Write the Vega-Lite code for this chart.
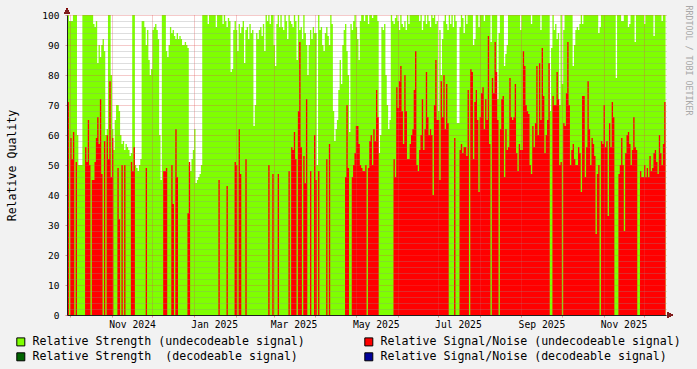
{
  "$schema": "https://vega.github.io/schema/vega-lite/v6.json",
  "width": 599,
  "height": 300,
  "autosize": {"type": "none"},
  "padding": {"left": 67, "top": 15, "right": 31, "bottom": 54},
  "background": "#F2F2F2",
  "config": {
    "view": {"fill": "#FFFFFF", "stroke": null},
    "font": "DejaVu Sans Mono",
    "axis": {"labelFont": "DejaVu Sans Mono", "titleFont": "DejaVu Sans Mono", "labelColor": "#000000", "titleColor": "#000000", "titleFontWeight": "normal"},
    "legend": {"labelFont": "DejaVu Sans Mono"}
  },
  "data": {"values": [
    {"t":"2024-09-29","g":100,"r":71},{"t":"2024-09-30","g":98,"r":0},
    {"t":"2024-10-01","g":98,"r":59},{"t":"2024-10-02","g":98,"r":52},{"t":"2024-10-03","g":100,"r":61},{"t":"2024-10-04","g":100,"r":0},{"t":"2024-10-05","g":100,"r":51},{"t":"2024-10-06","g":60,"r":0},{"t":"2024-10-07","g":50,"r":0},{"t":"2024-10-08","g":50,"r":0},{"t":"2024-10-09","g":50,"r":0},{"t":"2024-10-10","g":100,"r":0},{"t":"2024-10-11","g":100,"r":0},{"t":"2024-10-12","g":100,"r":56},{"t":"2024-10-13","g":100,"r":51},{"t":"2024-10-14","g":100,"r":65},{"t":"2024-10-15","g":100,"r":50},{"t":"2024-10-16","g":100,"r":0},{"t":"2024-10-17","g":100,"r":45},{"t":"2024-10-18","g":97,"r":45},{"t":"2024-10-19","g":96,"r":51},{"t":"2024-10-20","g":98,"r":59},{"t":"2024-10-21","g":84,"r":66},{"t":"2024-10-22","g":90,"r":57},{"t":"2024-10-23","g":86,"r":72},{"t":"2024-10-24","g":90,"r":47},{"t":"2024-10-25","g":92,"r":0},{"t":"2024-10-26","g":88,"r":58},{"t":"2024-10-27","g":60,"r":0},{"t":"2024-10-28","g":62,"r":60},{"t":"2024-10-29","g":100,"r":52},{"t":"2024-10-30","g":100,"r":78},{"t":"2024-10-31","g":80,"r":46},
    {"t":"2024-11-01","g":62,"r":59},{"t":"2024-11-02","g":55,"r":0},{"t":"2024-11-03","g":65,"r":0},{"t":"2024-11-04","g":70,"r":0},{"t":"2024-11-05","g":70,"r":49},{"t":"2024-11-06","g":68,"r":32},{"t":"2024-11-07","g":60,"r":0},{"t":"2024-11-08","g":57,"r":50},{"t":"2024-11-09","g":58,"r":0},{"t":"2024-11-10","g":55,"r":50},{"t":"2024-11-11","g":57,"r":0},{"t":"2024-11-12","g":56,"r":0},{"t":"2024-11-13","g":55,"r":0},{"t":"2024-11-14","g":53,"r":0},{"t":"2024-11-15","g":54,"r":51},{"t":"2024-11-16","g":100,"r":48},{"t":"2024-11-17","g":100,"r":56},{"t":"2024-11-18","g":50,"r":0},{"t":"2024-11-19","g":49,"r":0},{"t":"2024-11-20","g":48,"r":0},{"t":"2024-11-21","g":50,"r":0},{"t":"2024-11-22","g":52,"r":0},{"t":"2024-11-23","g":98,"r":0},{"t":"2024-11-24","g":98,"r":0},{"t":"2024-11-25","g":96,"r":0},{"t":"2024-11-26","g":90,"r":49},{"t":"2024-11-27","g":95,"r":0},{"t":"2024-11-28","g":85,"r":0},{"t":"2024-11-29","g":80,"r":0},{"t":"2024-11-30","g":82,"r":0},
    {"t":"2024-12-01","g":95,"r":0},{"t":"2024-12-02","g":96,"r":0},{"t":"2024-12-03","g":97,"r":0},{"t":"2024-12-04","g":95,"r":0},{"t":"2024-12-05","g":92,"r":0},{"t":"2024-12-06","g":60,"r":0},{"t":"2024-12-07","g":45,"r":0},{"t":"2024-12-08","g":100,"r":0},{"t":"2024-12-09","g":100,"r":48},{"t":"2024-12-10","g":100,"r":48},{"t":"2024-12-11","g":88,"r":49},{"t":"2024-12-12","g":86,"r":0},{"t":"2024-12-13","g":90,"r":0},{"t":"2024-12-14","g":96,"r":0},{"t":"2024-12-15","g":94,"r":50},{"t":"2024-12-16","g":95,"r":37},{"t":"2024-12-17","g":93,"r":0},{"t":"2024-12-18","g":92,"r":62},{"t":"2024-12-19","g":94,"r":46},{"t":"2024-12-20","g":92,"r":0},{"t":"2024-12-21","g":93,"r":0},{"t":"2024-12-22","g":92,"r":0},{"t":"2024-12-23","g":90,"r":0},{"t":"2024-12-24","g":90,"r":0},{"t":"2024-12-25","g":91,"r":0},{"t":"2024-12-26","g":90,"r":0},{"t":"2024-12-27","g":89,"r":34},{"t":"2024-12-28","g":50,"r":51},{"t":"2024-12-29","g":48,"r":0},{"t":"2024-12-30","g":52,"r":0},{"t":"2024-12-31","g":55,"r":0},
    {"t":"2025-01-01","g":62,"r":0},{"t":"2025-01-02","g":44,"r":0},{"t":"2025-01-03","g":45,"r":0},{"t":"2025-01-04","g":46,"r":0},{"t":"2025-01-05","g":47,"r":0},{"t":"2025-01-06","g":50,"r":0},{"t":"2025-01-07","g":100,"r":0},{"t":"2025-01-08","g":100,"r":0},{"t":"2025-01-09","g":100,"r":0},{"t":"2025-01-10","g":100,"r":0},{"t":"2025-01-11","g":97,"r":0},{"t":"2025-01-12","g":100,"r":0},{"t":"2025-01-13","g":100,"r":0},{"t":"2025-01-14","g":100,"r":0},{"t":"2025-01-15","g":100,"r":0},{"t":"2025-01-16","g":100,"r":0},{"t":"2025-01-17","g":96,"r":0},{"t":"2025-01-18","g":100,"r":0},{"t":"2025-01-19","g":100,"r":45},{"t":"2025-01-20","g":100,"r":0},{"t":"2025-01-21","g":100,"r":0},{"t":"2025-01-22","g":97,"r":0},{"t":"2025-01-23","g":100,"r":0},{"t":"2025-01-24","g":98,"r":0},{"t":"2025-01-25","g":96,"r":43},{"t":"2025-01-26","g":99,"r":0},{"t":"2025-01-27","g":98,"r":0},{"t":"2025-01-28","g":81,"r":0},{"t":"2025-01-29","g":82,"r":0},{"t":"2025-01-30","g":95,"r":0},{"t":"2025-01-31","g":98,"r":51},
    {"t":"2025-02-01","g":95,"r":50},{"t":"2025-02-02","g":88,"r":0},{"t":"2025-02-03","g":97,"r":62},{"t":"2025-02-04","g":94,"r":47},{"t":"2025-02-05","g":96,"r":0},{"t":"2025-02-06","g":98,"r":0},{"t":"2025-02-07","g":84,"r":0},{"t":"2025-02-08","g":95,"r":52},{"t":"2025-02-09","g":96,"r":0},{"t":"2025-02-10","g":92,"r":0},{"t":"2025-02-11","g":97,"r":0},{"t":"2025-02-12","g":94,"r":0},{"t":"2025-02-13","g":95,"r":0},{"t":"2025-02-14","g":63,"r":0},{"t":"2025-02-15","g":70,"r":0},{"t":"2025-02-16","g":94,"r":0},{"t":"2025-02-17","g":92,"r":0},{"t":"2025-02-18","g":95,"r":0},{"t":"2025-02-19","g":96,"r":0},{"t":"2025-02-20","g":93,"r":0},{"t":"2025-02-21","g":97,"r":0},{"t":"2025-02-22","g":88,"r":0},{"t":"2025-02-23","g":100,"r":0},{"t":"2025-02-24","g":98,"r":0},{"t":"2025-02-25","g":100,"r":50},{"t":"2025-02-26","g":97,"r":0},{"t":"2025-02-27","g":100,"r":0},{"t":"2025-02-28","g":100,"r":47},
    {"t":"2025-03-01","g":90,"r":0},{"t":"2025-03-02","g":83,"r":0},{"t":"2025-03-03","g":97,"r":0},{"t":"2025-03-04","g":100,"r":47},{"t":"2025-03-05","g":96,"r":0},{"t":"2025-03-06","g":100,"r":0},{"t":"2025-03-07","g":96,"r":0},{"t":"2025-03-08","g":95,"r":0},{"t":"2025-03-09","g":100,"r":0},{"t":"2025-03-10","g":98,"r":0},{"t":"2025-03-11","g":92,"r":0},{"t":"2025-03-12","g":100,"r":48},{"t":"2025-03-13","g":98,"r":0},{"t":"2025-03-14","g":97,"r":56},{"t":"2025-03-15","g":96,"r":55},{"t":"2025-03-16","g":100,"r":61},{"t":"2025-03-17","g":98,"r":52},{"t":"2025-03-18","g":85,"r":0},{"t":"2025-03-19","g":100,"r":68},{"t":"2025-03-20","g":95,"r":91},{"t":"2025-03-21","g":96,"r":56},{"t":"2025-03-22","g":92,"r":0},{"t":"2025-03-23","g":100,"r":53},{"t":"2025-03-24","g":94,"r":44},{"t":"2025-03-25","g":90,"r":72},{"t":"2025-03-26","g":80,"r":0},{"t":"2025-03-27","g":90,"r":0},{"t":"2025-03-28","g":95,"r":48},{"t":"2025-03-29","g":92,"r":0},{"t":"2025-03-30","g":96,"r":0},{"t":"2025-03-31","g":94,"r":60},
    {"t":"2025-04-01","g":94,"r":45},{"t":"2025-04-02","g":50,"r":0},{"t":"2025-04-03","g":100,"r":48},{"t":"2025-04-04","g":95,"r":0},{"t":"2025-04-05","g":96,"r":0},{"t":"2025-04-06","g":90,"r":0},{"t":"2025-04-07","g":88,"r":0},{"t":"2025-04-08","g":94,"r":0},{"t":"2025-04-09","g":96,"r":52},{"t":"2025-04-10","g":93,"r":0},{"t":"2025-04-11","g":90,"r":57},{"t":"2025-04-12","g":100,"r":0},{"t":"2025-04-13","g":97,"r":0},{"t":"2025-04-14","g":68,"r":0},{"t":"2025-04-15","g":58,"r":0},{"t":"2025-04-16","g":62,"r":0},{"t":"2025-04-17","g":65,"r":0},{"t":"2025-04-18","g":75,"r":0},{"t":"2025-04-19","g":85,"r":0},{"t":"2025-04-20","g":77,"r":0},{"t":"2025-04-21","g":90,"r":0},{"t":"2025-04-22","g":95,"r":0},{"t":"2025-04-23","g":97,"r":46},{"t":"2025-04-24","g":88,"r":70},{"t":"2025-04-25","g":80,"r":49},{"t":"2025-04-26","g":61,"r":0},{"t":"2025-04-27","g":97,"r":0},{"t":"2025-04-28","g":95,"r":46},{"t":"2025-04-29","g":98,"r":50},{"t":"2025-04-30","g":100,"r":54},
    {"t":"2025-05-01","g":96,"r":63},{"t":"2025-05-02","g":92,"r":63},{"t":"2025-05-03","g":85,"r":57},{"t":"2025-05-04","g":98,"r":50},{"t":"2025-05-05","g":100,"r":49},{"t":"2025-05-06","g":100,"r":48},{"t":"2025-05-07","g":98,"r":48},{"t":"2025-05-08","g":100,"r":50},{"t":"2025-05-09","g":100,"r":0},{"t":"2025-05-10","g":97,"r":49},{"t":"2025-05-11","g":100,"r":58},{"t":"2025-05-12","g":100,"r":60},{"t":"2025-05-13","g":99,"r":50},{"t":"2025-05-14","g":100,"r":62},{"t":"2025-05-15","g":100,"r":58},{"t":"2025-05-16","g":100,"r":75},{"t":"2025-05-17","g":98,"r":66},{"t":"2025-05-18","g":54,"r":0},{"t":"2025-05-19","g":60,"r":0},{"t":"2025-05-20","g":96,"r":0},{"t":"2025-05-21","g":95,"r":0},{"t":"2025-05-22","g":97,"r":0},{"t":"2025-05-23","g":80,"r":0},{"t":"2025-05-24","g":70,"r":0},{"t":"2025-05-25","g":62,"r":0},{"t":"2025-05-26","g":65,"r":0},{"t":"2025-05-27","g":100,"r":0},{"t":"2025-05-28","g":98,"r":0},{"t":"2025-05-29","g":97,"r":52},{"t":"2025-05-30","g":99,"r":46},{"t":"2025-05-31","g":100,"r":76},
    {"t":"2025-06-01","g":98,"r":69},{"t":"2025-06-02","g":95,"r":78},{"t":"2025-06-03","g":100,"r":83},{"t":"2025-06-04","g":97,"r":68},{"t":"2025-06-05","g":96,"r":57},{"t":"2025-06-06","g":98,"r":80},{"t":"2025-06-07","g":95,"r":68},{"t":"2025-06-08","g":100,"r":52},{"t":"2025-06-09","g":97,"r":52},{"t":"2025-06-10","g":100,"r":57},{"t":"2025-06-11","g":100,"r":60},{"t":"2025-06-12","g":100,"r":62},{"t":"2025-06-13","g":100,"r":75},{"t":"2025-06-14","g":100,"r":88},{"t":"2025-06-15","g":100,"r":50},{"t":"2025-06-16","g":100,"r":48},{"t":"2025-06-17","g":98,"r":55},{"t":"2025-06-18","g":100,"r":60},{"t":"2025-06-19","g":95,"r":72},{"t":"2025-06-20","g":98,"r":55},{"t":"2025-06-21","g":100,"r":62},{"t":"2025-06-22","g":97,"r":81},{"t":"2025-06-23","g":100,"r":66},{"t":"2025-06-24","g":98,"r":60},{"t":"2025-06-25","g":96,"r":62},{"t":"2025-06-26","g":100,"r":60},{"t":"2025-06-27","g":99,"r":40},{"t":"2025-06-28","g":100,"r":70},{"t":"2025-06-29","g":97,"r":85},{"t":"2025-06-30","g":98,"r":65},
    {"t":"2025-07-01","g":68,"r":65},{"t":"2025-07-02","g":95,"r":45},{"t":"2025-07-03","g":80,"r":78},{"t":"2025-07-04","g":92,"r":66},{"t":"2025-07-05","g":98,"r":80},{"t":"2025-07-06","g":100,"r":62},{"t":"2025-07-07","g":97,"r":77},{"t":"2025-07-08","g":95,"r":64},{"t":"2025-07-09","g":100,"r":0},{"t":"2025-07-10","g":97,"r":0},{"t":"2025-07-11","g":100,"r":0},{"t":"2025-07-12","g":96,"r":0},{"t":"2025-07-13","g":100,"r":59},{"t":"2025-07-14","g":98,"r":0},{"t":"2025-07-15","g":64,"r":0},{"t":"2025-07-16","g":64,"r":0},{"t":"2025-07-17","g":96,"r":55},{"t":"2025-07-18","g":100,"r":57},{"t":"2025-07-19","g":99,"r":54},{"t":"2025-07-20","g":94,"r":56},{"t":"2025-07-21","g":100,"r":56},{"t":"2025-07-22","g":97,"r":53},{"t":"2025-07-23","g":100,"r":75},{"t":"2025-07-24","g":100,"r":0},{"t":"2025-07-25","g":100,"r":82},{"t":"2025-07-26","g":100,"r":81},{"t":"2025-07-27","g":90,"r":52},{"t":"2025-07-28","g":92,"r":71},{"t":"2025-07-29","g":100,"r":75},{"t":"2025-07-30","g":100,"r":65},{"t":"2025-07-31","g":96,"r":41},
    {"t":"2025-08-01","g":100,"r":66},{"t":"2025-08-02","g":100,"r":74},{"t":"2025-08-03","g":100,"r":76},{"t":"2025-08-04","g":98,"r":62},{"t":"2025-08-05","g":100,"r":72},{"t":"2025-08-06","g":100,"r":65},{"t":"2025-08-07","g":100,"r":93},{"t":"2025-08-08","g":100,"r":57},{"t":"2025-08-09","g":91,"r":0},{"t":"2025-08-10","g":100,"r":79},{"t":"2025-08-11","g":100,"r":74},{"t":"2025-08-12","g":100,"r":91},{"t":"2025-08-13","g":100,"r":81},{"t":"2025-08-14","g":72,"r":65},{"t":"2025-08-15","g":94,"r":0},{"t":"2025-08-16","g":100,"r":62},{"t":"2025-08-17","g":100,"r":72},{"t":"2025-08-18","g":100,"r":73},{"t":"2025-08-19","g":83,"r":46},{"t":"2025-08-20","g":87,"r":62},{"t":"2025-08-21","g":90,"r":55},{"t":"2025-08-22","g":100,"r":56},{"t":"2025-08-23","g":100,"r":79},{"t":"2025-08-24","g":100,"r":66},{"t":"2025-08-25","g":100,"r":65},{"t":"2025-08-26","g":100,"r":66},{"t":"2025-08-27","g":100,"r":77},{"t":"2025-08-28","g":100,"r":54},{"t":"2025-08-29","g":100,"r":48},{"t":"2025-08-30","g":100,"r":57},{"t":"2025-08-31","g":95,"r":55},
    {"t":"2025-09-01","g":100,"r":55},{"t":"2025-09-02","g":100,"r":88},{"t":"2025-09-03","g":100,"r":83},{"t":"2025-09-04","g":100,"r":70},{"t":"2025-09-05","g":100,"r":68},{"t":"2025-09-06","g":100,"r":67},{"t":"2025-09-07","g":100,"r":50},{"t":"2025-09-08","g":97,"r":47},{"t":"2025-09-09","g":100,"r":63},{"t":"2025-09-10","g":100,"r":56},{"t":"2025-09-11","g":100,"r":64},{"t":"2025-09-12","g":100,"r":83},{"t":"2025-09-13","g":100,"r":60},{"t":"2025-09-14","g":100,"r":84},{"t":"2025-09-15","g":95,"r":65},{"t":"2025-09-16","g":100,"r":89},{"t":"2025-09-17","g":100,"r":73},{"t":"2025-09-18","g":100,"r":54},{"t":"2025-09-19","g":100,"r":60},{"t":"2025-09-20","g":100,"r":65},{"t":"2025-09-21","g":100,"r":84},{"t":"2025-09-22","g":68,"r":0},{"t":"2025-09-23","g":89,"r":0},{"t":"2025-09-24","g":100,"r":73},{"t":"2025-09-25","g":95,"r":70},{"t":"2025-09-26","g":97,"r":70},{"t":"2025-09-27","g":92,"r":81},{"t":"2025-09-28","g":94,"r":72},{"t":"2025-09-29","g":70,"r":50},{"t":"2025-09-30","g":100,"r":51},
    {"t":"2025-10-01","g":77,"r":0},{"t":"2025-10-02","g":95,"r":64},{"t":"2025-10-03","g":100,"r":63},{"t":"2025-10-04","g":100,"r":74},{"t":"2025-10-05","g":100,"r":91},{"t":"2025-10-06","g":100,"r":70},{"t":"2025-10-07","g":100,"r":50},{"t":"2025-10-08","g":100,"r":55},{"t":"2025-10-09","g":83,"r":57},{"t":"2025-10-10","g":90,"r":52},{"t":"2025-10-11","g":95,"r":50},{"t":"2025-10-12","g":96,"r":50},{"t":"2025-10-13","g":95,"r":56},{"t":"2025-10-14","g":97,"r":54},{"t":"2025-10-15","g":100,"r":41},{"t":"2025-10-16","g":97,"r":73},{"t":"2025-10-17","g":100,"r":73},{"t":"2025-10-18","g":100,"r":46},{"t":"2025-10-19","g":100,"r":56},{"t":"2025-10-20","g":100,"r":78},{"t":"2025-10-21","g":100,"r":62},{"t":"2025-10-22","g":100,"r":50},{"t":"2025-10-23","g":100,"r":59},{"t":"2025-10-24","g":100,"r":57},{"t":"2025-10-25","g":100,"r":53},{"t":"2025-10-26","g":100,"r":27},{"t":"2025-10-27","g":100,"r":47},{"t":"2025-10-28","g":94,"r":50},{"t":"2025-10-29","g":96,"r":0},{"t":"2025-10-30","g":100,"r":58},{"t":"2025-10-31","g":100,"r":57},
    {"t":"2025-11-01","g":100,"r":70},{"t":"2025-11-02","g":100,"r":56},{"t":"2025-11-03","g":100,"r":58},{"t":"2025-11-04","g":100,"r":33},{"t":"2025-11-05","g":100,"r":64},{"t":"2025-11-06","g":100,"r":56},{"t":"2025-11-07","g":100,"r":71},{"t":"2025-11-08","g":100,"r":66},{"t":"2025-11-09","g":100,"r":0},{"t":"2025-11-10","g":79,"r":0},{"t":"2025-11-11","g":100,"r":0},{"t":"2025-11-12","g":100,"r":47},{"t":"2025-11-13","g":100,"r":50},{"t":"2025-11-14","g":98,"r":59},{"t":"2025-11-15","g":98,"r":50},{"t":"2025-11-16","g":100,"r":28},{"t":"2025-11-17","g":100,"r":54},{"t":"2025-11-18","g":100,"r":60},{"t":"2025-11-19","g":96,"r":61},{"t":"2025-11-20","g":97,"r":57},{"t":"2025-11-21","g":100,"r":50},{"t":"2025-11-22","g":100,"r":55},{"t":"2025-11-23","g":100,"r":66},{"t":"2025-11-24","g":91,"r":56},{"t":"2025-11-25","g":100,"r":55},{"t":"2025-11-26","g":100,"r":0},{"t":"2025-11-27","g":100,"r":0},{"t":"2025-11-28","g":100,"r":48},{"t":"2025-11-29","g":100,"r":46},{"t":"2025-11-30","g":100,"r":46},
    {"t":"2025-12-01","g":97,"r":50},{"t":"2025-12-02","g":100,"r":46},{"t":"2025-12-03","g":100,"r":49},{"t":"2025-12-04","g":100,"r":46},{"t":"2025-12-05","g":100,"r":53},{"t":"2025-12-06","g":100,"r":48},{"t":"2025-12-07","g":100,"r":49},{"t":"2025-12-08","g":93,"r":54},{"t":"2025-12-09","g":100,"r":55},{"t":"2025-12-10","g":100,"r":51},{"t":"2025-12-11","g":100,"r":47},{"t":"2025-12-12","g":100,"r":60},{"t":"2025-12-13","g":100,"r":54},{"t":"2025-12-14","g":98,"r":50},{"t":"2025-12-15","g":100,"r":57},{"t":"2025-12-16","g":100,"r":71},{"t":"2025-12-17","g":100,"r":71}
  ]},
  "layer": [
    {
      "mark": {"type": "area", "interpolate": "step-after", "opacity": 1},
      "encoding": {
        "x": {
          "field": "t", "type": "temporal",
          "scale": {"type": "utc", "nice": false, "domain": [{"year": 2024, "month": 9, "date": 28, "hours": 14, "utc": true}, {"year": 2025, "month": 12, "date": 17, "hours": 8, "utc": true}]},
          "axis": {
            "orient": "bottom", "title": null, "zindex": 1,
            "values": [
              {"year": 2024, "month": 10, "date": 1, "utc": true}, {"year": 2024, "month": 11, "date": 1, "utc": true}, {"year": 2024, "month": 12, "date": 1, "utc": true},
              {"year": 2025, "month": 1, "date": 1, "utc": true}, {"year": 2025, "month": 2, "date": 1, "utc": true}, {"year": 2025, "month": 3, "date": 1, "utc": true},
              {"year": 2025, "month": 4, "date": 1, "utc": true}, {"year": 2025, "month": 5, "date": 1, "utc": true}, {"year": 2025, "month": 6, "date": 1, "utc": true},
              {"year": 2025, "month": 7, "date": 1, "utc": true}, {"year": 2025, "month": 8, "date": 1, "utc": true}, {"year": 2025, "month": 9, "date": 1, "utc": true},
              {"year": 2025, "month": 10, "date": 1, "utc": true}, {"year": 2025, "month": 11, "date": 1, "utc": true}, {"year": 2025, "month": 12, "date": 1, "utc": true}
            ],
            "grid": true, "gridColor": "#DE4F4F", "gridOpacity": 0.6, "gridDash": [1, 1], "gridWidth": 1,
            "domain": true, "domainColor": "#1F1F1F", "domainWidth": 1,
            "ticks": true, "tickSize": 2, "tickColor": "#DE4F4F", "tickOpacity": 0.6,
            "labelExpr": "utcmonth(datum.value) % 2 == 0 ? utcFormat(datum.value, '%b %Y') : ''",
            "labelOffset": 20, "labelPadding": 2, "labelFontSize": 9.7, "labelFlush": false, "labelOverlap": false, "labelBound": false
          }
        },
        "y": {
          "field": "g", "type": "quantitative",
          "scale": {"domain": [0, 100], "nice": false},
          "axis": {
            "orient": "left", "zindex": 1,
            "values": [0, 10, 20, 30, 40, 50, 60, 70, 80, 90, 100],
            "grid": true, "gridColor": "#DE4F4F", "gridOpacity": 0.6, "gridDash": [1, 1], "gridWidth": 1,
            "domain": true, "domainColor": "#1F1F1F", "domainWidth": 1,
            "ticks": true, "tickSize": 2, "tickColor": "#DE4F4F", "tickOpacity": 0.6,
            "labelPadding": 6, "labelFontSize": 9.5,
            "title": "Relative Quality", "titleFontSize": 11.6, "titleAngle": -90, "titleX": -52, "titleY": 150, "titleAlign": "center", "titleBaseline": "alphabetic"
          }
        },
        "color": {
          "datum": "Relative Strength (undecodeable signal)", "type": "nominal",
          "scale": {
            "domain": ["Relative Strength (undecodeable signal)", "Relative Signal/Noise (undecodeable signal)", "Relative Strength\u00a0 (decodeable signal)", "Relative Signal/Noise (decodeable signal)"],
            "range": ["#7FFF00", "#FF0000", "#006400", "#000099"]
          },
          "legend": {
            "title": null, "orient": "none", "legendX": -52, "legendY": 321, "direction": "horizontal", "columns": 2,
            "columnPadding": 57, "rowPadding": 2, "padding": 0, "gridAlign": "each",
            "symbolType": "square", "symbolSize": 64, "symbolStrokeColor": "#000000", "symbolStrokeWidth": 1, "symbolOpacity": 1,
            "labelFontSize": 11.6, "labelColor": "#000000", "labelOffset": 6, "labelLimit": 400
          }
        }
      }
    },
    {
      "mark": {"type": "area", "interpolate": "step-after", "opacity": 1},
      "encoding": {
        "x": {
          "field": "t", "type": "temporal",
          "axis": {"orient": "bottom", "title": null, "labels": false, "ticks": false, "domain": false, "grid": false}
        },
        "y": {
          "field": "r", "type": "quantitative",
          "axis": {
            "orient": "left", "title": null, "labels": false, "ticks": false, "domain": false, "zindex": 1,
            "values": [2, 4, 6, 8, 12, 14, 16, 18, 22, 24, 26, 28, 32, 34, 36, 38, 42, 44, 46, 48, 52, 54, 56, 58, 62, 64, 66, 68, 72, 74, 76, 78, 82, 84, 86, 88, 92, 94, 96, 98],
            "grid": true, "gridColor": "#8F8F8F", "gridOpacity": 0.6, "gridDash": [1, 1], "gridWidth": 1
          }
        },
        "color": {"datum": "Relative Signal/Noise (undecodeable signal)", "type": "nominal"}
      }
    },
    {
      "mark": {"type": "point", "shape": "triangle-up", "filled": true, "size": 30, "color": "#801F1F", "yOffset": -4, "opacity": 1},
      "encoding": {
        "x": {"datum": {"year": 2024, "month": 9, "date": 28, "hours": 14, "utc": true}, "type": "temporal", "axis": null},
        "y": {
          "datum": 100, "type": "quantitative",
          "axis": {"orient": "right", "title": "RRDTOOL / TOBI OETIKER", "labels": false, "ticks": false, "domain": false, "grid": false,
                   "titleAngle": 90, "titleX": 21, "titleY": -10, "titleAlign": "left", "titleBaseline": "middle", "titleFontSize": 8.3, "titleColor": "#A8A8A8"}
        }
      }
    },
    {
      "mark": {"type": "point", "shape": "triangle-right", "filled": true, "size": 30, "color": "#801F1F", "xOffset": 4, "opacity": 1},
      "encoding": {
        "x": {"datum": {"year": 2025, "month": 12, "date": 17, "hours": 8, "utc": true}, "type": "temporal", "axis": null},
        "y": {"datum": 0, "type": "quantitative", "axis": null}
      }
    }
  ],
  "resolve": {"axis": {"x": "independent", "y": "independent"}}
}
